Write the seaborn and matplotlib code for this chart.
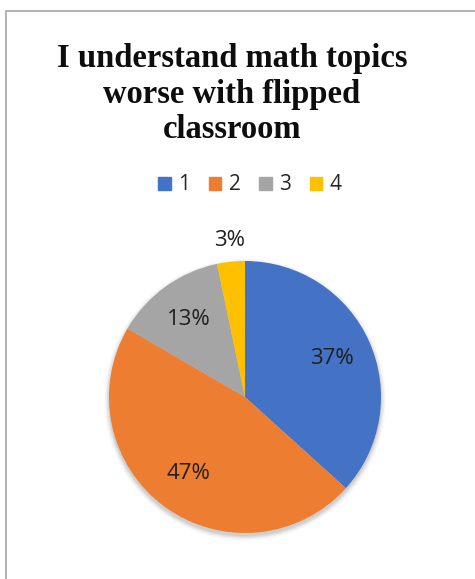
import matplotlib
matplotlib.use("Agg")
import matplotlib.pyplot as plt
from matplotlib.patches import Rectangle, Circle
import seaborn as sns

categories = ["1", "2", "3", "4"]
values = [36.7, 46.7, 13.3, 3.3]
colors = ["#4472C4", "#ED7D31", "#A5A5A5", "#FFC000"]
title = "I understand math topics\nworse with flipped\nclassroom"

sns.set_theme(style="white")
plt.rcParams['font.family'] = ['Open Sans', 'DejaVu Sans']

W, H = 475, 579
fig = plt.figure(figsize=(W / 100, H / 100), dpi=100)
fig.patch.set_facecolor("white")

# frame
fig.patches.append(Rectangle((5.5 / W, -0.1), 2.0, (H - 10.5) / H + 0.1,
                             transform=fig.transFigure, fill=False,
                             edgecolor="#A6A6A6", lw=1.2))

cx, cy, r = 245, 397, 136
ax = fig.add_axes([(cx - r) / W, (H - cy - r) / H, 2 * r / W, 2 * r / H])
# soft shadow
for rad, a in [(1.035, 0.04), (1.025, 0.06), (1.015, 0.09), (1.005, 0.12)]:
    ax.add_patch(Circle((0, -0.02), rad, color="#555555", alpha=a, lw=0,
                        zorder=0, clip_on=False))
wedges, texts, autotexts = ax.pie(
    values, colors=colors, startangle=90, counterclock=False,
    autopct="%.0f%%", pctdistance=0.70, radius=1.0,
    textprops={"fontsize": 16, "color": "#1F1F1F", "family": "Open Sans"},
    wedgeprops={"linewidth": 0},
)
for w in wedges:
    w.set_zorder(2)
    w.set_clip_on(False)
for t in autotexts:
    t.set_zorder(3)
# small slice label outside
autotexts[3].set_position((-0.11, 1.15))
ax.set_xlim(-1, 1)
ax.set_ylim(-1, 1)
ax.set_aspect("equal")
ax.axis("off")

fig.text(232 / W, 1 - 94 / H, title, ha="center", va="center",
         fontsize=23.5, fontweight="bold", family="Liberation Serif",
         linespacing=1.2, color="#0D0D0D")

handles = [Rectangle((0, 0), 1, 1, color=c) for c in colors]
fig.legend(handles, categories, loc="center", bbox_to_anchor=(250 / W, 1 - 185 / H),
           ncol=4, frameon=False, fontsize=15, handlelength=0.6, handleheight=0.6,
           handletextpad=0.35, columnspacing=0.9)

fig.savefig("out.png", dpi=100)
